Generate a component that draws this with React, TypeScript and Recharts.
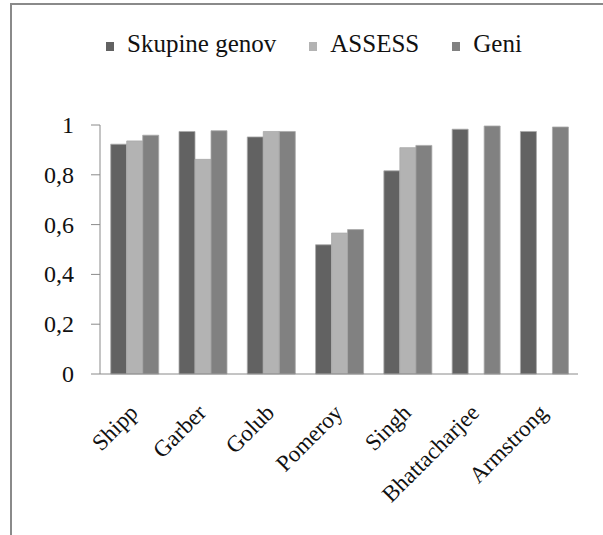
import React from "react"
import { BarChart, Bar, XAxis, YAxis, Legend } from "recharts"

const categories = ["Shipp", "Garber", "Golub", "Pomeroy", "Singh", "Bhattacharjee", "Armstrong"]
const skupineGenov = [0.923, 0.974, 0.952, 0.519, 0.816, 0.983, 0.974]
const assess = [0.936, 0.862, 0.974, 0.566, 0.909, null, null]
const geni = [0.959, 0.977, 0.974, 0.58, 0.918, 0.996, 0.992]
const yTicks = [0, 0.2, 0.4, 0.6, 0.8, 1]
const edgeTicks = [0, 1, 2, 3, 4, 5, 6, 7]

const seriesInfo = [
  { key: "skupine", name: "Skupine genov", color: "#626262" },
  { key: "assess", name: "ASSESS", color: "#b3b3b3" },
  { key: "geni", name: "Geni", color: "#818181" },
]

const data = categories.map((name, i) => ({
  name,
  skupine: skupineGenov[i],
  assess: assess[i],
  geni: geni[i],
}))

const FONT = "Liberation Serif"

function CategoryTick(props: any) {
  const { x, y, payload } = props
  return (
    <g transform={`translate(${x + 5},${y + 32})`}>
      <text transform="rotate(-45)" textAnchor="end" fontFamily={FONT} fontSize={23} fill="#111">
        {payload.value}
      </text>
    </g>
  )
}

function ValueTick(props: any) {
  const { x, y, payload } = props
  return (
    <text x={x} y={y} dy={8} textAnchor="end" fontFamily={FONT} fontSize={24} fill="#111">
      {String(payload.value).replace(".", ",")}
    </text>
  )
}

function LegendContent() {
  return (
    <div
      style={{
        display: "flex",
        justifyContent: "flex-start",
        alignItems: "center",
        fontFamily: FONT,
        fontSize: 25,
        color: "#111",
        paddingLeft: 106,
      }}
    >
      {seriesInfo.map((s) => (
        <div key={s.key} style={{ display: "flex", alignItems: "center", marginRight: 33 }}>
          <span style={{ width: 8, height: 9, background: s.color, display: "inline-block", marginRight: 13, marginTop: 4 }} />
          <span>{s.name}</span>
        </div>
      ))}
    </div>
  )
}

export default function App() {
  return (
    <div
      style={{
        position: "absolute",
        left: 0,
        top: 0,
        width: 603,
        height: 535,
        background: "#fff",
        fontFamily: FONT,
      }}
    >
      {/* chart frame: only top and left edges show in the reference */}
      <div
        style={{
          position: "absolute",
          left: 10,
          top: 3,
          width: 593,
          height: 532,
          borderTop: "2px solid #8a8a8a",
          borderLeft: "2px solid #8a8a8a",
          boxSizing: "border-box",
        }}
      />
      <BarChart
        width={603}
        height={535}
        data={data}
        margin={{ top: 97, right: 25, bottom: 0, left: 0 }}
        barCategoryGap="15.7%"
        barGap={0}
      >
        <Legend
          verticalAlign="top"
          content={<LegendContent />}
          wrapperStyle={{ top: 30, left: 0, width: 603 }}
        />
        <XAxis
          xAxisId="edges"
          type="number"
          domain={[0, 7]}
          ticks={edgeTicks}
          tick={false}
          tickSize={9}
          axisLine={false}
          tickLine={{ stroke: "#8a8a8a" }}
          height={0}
        />
        <XAxis
          dataKey="name"
          interval={0}
          tick={<CategoryTick />}
          tickLine={false}
          axisLine={{ stroke: "#8a8a8a" }}
          height={161}
        />
        <YAxis
          domain={[0, 1]}
          ticks={yTicks}
          width={100}
          tickSize={9}
          tickMargin={17}
          axisLine={{ stroke: "#8a8a8a" }}
          tickLine={{ stroke: "#8a8a8a" }}
          tick={<ValueTick />}
        />
        {seriesInfo.map((s) => (
          <Bar
            key={s.key}
            dataKey={s.key}
            name={s.name}
            fill={s.color}
            stroke="#a9a9a9"
            strokeWidth={0.8}
            isAnimationActive={false}
          />
        ))}
      </BarChart>
    </div>
  )
}
